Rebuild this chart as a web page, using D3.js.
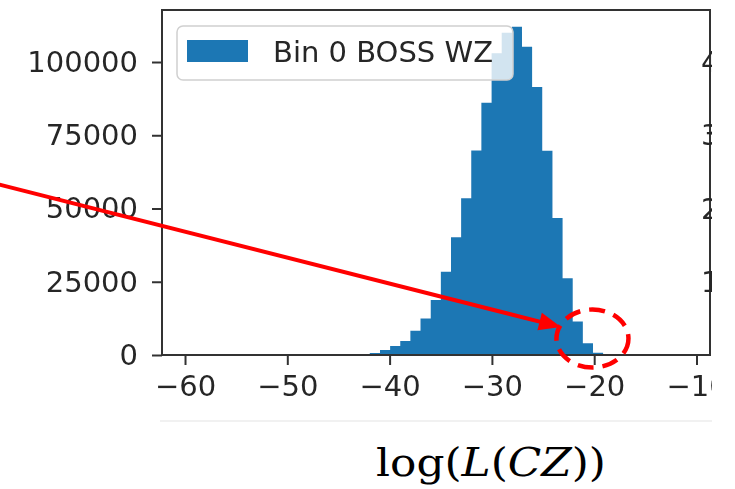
<!DOCTYPE html>
<html>
<head>
<meta charset="utf-8">
<script src="https://cdn.jsdelivr.net/npm/d3@7"></script>
<style>
  html, body { margin: 0; padding: 0; background: #fff; }
  svg { display: block; }
</style>
</head>
<body>
<svg id="chart" width="735" height="489"></svg>
<script>
// Histogram of log(L(CZ)) for bin 0 of the BOSS WZ sample
const binLeft = [-42.93, -41.94, -40.94, -39.95, -38.96, -37.97, -36.98, -35.98,
                 -34.99, -34.00, -33.01, -32.02, -31.03, -30.03, -29.04, -28.05,
                 -27.06, -26.07, -25.08, -24.08, -23.09, -22.10, -21.11, -20.12];
const binRight = [-41.94, -40.94, -39.95, -38.96, -37.97, -36.98, -35.98, -34.99,
                  -34.00, -33.01, -32.02, -31.03, -30.03, -29.04, -28.05, -27.06,
                  -26.07, -25.08, -24.08, -23.09, -22.10, -21.11, -20.12, -19.13];
const counts = [300, 700, 1700, 3100, 4800, 8300, 12500, 18800,
                28400, 40200, 53500, 69800, 86100, 103000, 110000, 112000,
                105200, 91500, 69700, 46800, 26200, 11400, 4000, 800];
const xTicks = [-60, -50, -40, -30, -20, -10];
const yTicks = [0, 25000, 50000, 75000, 100000];
const seriesLabel = "Bin 0 BOSS WZ";
const axisTitle = ["log(", "L", "(", "CZ", "))"];
// neighbouring panel's tick labels that peek in at the right edge
const sideTicks = [{v: 40000, t: "4"}, {v: 30000, t: "3"}, {v: 20000, t: "2"}, {v: 10000, t: "1"}];

const svg = d3.select("#chart");
const frame = {left: 162, right: 710, top: 10, bottom: 355};

const x = d3.scaleLinear().domain([-62.25, -8.68]).range([frame.left, frame.right]);
const y = d3.scaleLinear().domain([0, 117750]).range([frame.bottom, frame.top]);

const defs = svg.append("defs");
defs.append("filter").attr("id", "soft")
  .attr("x", "-5%").attr("y", "-5%").attr("width", "110%").attr("height", "110%")
  .append("feGaussianBlur").attr("stdDeviation", 0.6);
defs.append("clipPath").attr("id", "crop")
  .append("rect").attr("x", 0).attr("y", 0).attr("width", 712).attr("height", 423);

const fig = svg.append("g").attr("clip-path", "url(#crop)")
  .append("g").attr("filter", "url(#soft)");

// bars, drawn as one path so neighbouring bins show no seams
const barPath = d3.path();
counts.forEach((c, i) => {
  const x0 = x(binLeft[i]), x1 = x(binRight[i]);
  barPath.rect(x0, y(c), x1 - x0, y(0) - y(c));
});
fig.append("path").attr("d", barPath.toString()).attr("fill", "#1f77b4");

// legend (semi-transparent box over the bars)
const leg = fig.append("g");
leg.append("rect")
  .attr("x", 177).attr("y", 26).attr("width", 336).attr("height", 54)
  .attr("rx", 6).attr("fill", "#fff").attr("fill-opacity", 0.8)
  .attr("stroke", "#d0d0d0").attr("stroke-width", 1.5);
leg.append("rect")
  .attr("x", 187).attr("y", 40).attr("width", 61).attr("height", 22)
  .attr("fill", "#1f77b4");
leg.append("text")
  .attr("x", 273).attr("y", 62)
  .attr("font-family", "DejaVu Sans").attr("font-size", 29).attr("fill", "#262626")
  .text(seriesLabel);

// axes
const xAxis = d3.axisBottom(x).tickValues(xTicks)
  .tickFormat(d => d3.format("d")(d).replace("-", "\u2212"))
  .tickSize(10).tickPadding(10);
const gx = fig.append("g").attr("transform", `translate(0,${frame.bottom})`).call(xAxis);

const yAxis = d3.axisLeft(y).tickValues(yTicks).tickFormat(d3.format("d"))
  .tickSize(10).tickPadding(14);
const gy = fig.append("g").attr("transform", `translate(${frame.left},0)`).call(yAxis);

[gx, gy].forEach(g => {
  g.select(".domain").remove();
  g.selectAll(".tick line").attr("stroke", "#333").attr("stroke-width", 2);
  g.selectAll(".tick text").attr("font-family", "DejaVu Sans").attr("font-size", 29)
    .attr("fill", "#262626");
});

// frame
fig.append("rect")
  .attr("x", frame.left).attr("y", frame.top)
  .attr("width", frame.right - frame.left).attr("height", frame.bottom - frame.top)
  .attr("fill", "none").attr("stroke", "#333").attr("stroke-width", 2);

// tick labels of the adjacent panel, cut at the edge
fig.append("g").selectAll("text")
  .data(sideTicks)
  .join("text")
  .attr("x", 701)
  .attr("y", d => y(d.v * 2.5))
  .attr("dy", "0.35em")
  .attr("font-family", "DejaVu Sans").attr("font-size", 29).attr("fill", "#262626")
  .text(d => d.t);

// faint lower edge of the figure
svg.append("line")
  .attr("x1", 160).attr("x2", 712).attr("y1", 421).attr("y2", 421)
  .attr("stroke", "#ececec").attr("stroke-width", 1.5);

// axis title, widened to the span of the math-font original
const titleLeft = 376, titleWidth = 230, titleBase = 476;
const titleG = svg.append("g");
const title = titleG.append("text")
  .attr("x", 0).attr("y", 0)
  .attr("font-family", "DejaVu Serif, Liberation Serif, serif")
  .attr("font-size", 40).attr("fill", "#000");
axisTitle.forEach((s, i) => {
  title.append("tspan").attr("font-style", i % 2 === 1 ? "italic" : "normal").text(s);
});
const natural = title.node().getComputedTextLength();
titleG.attr("transform", `translate(${titleLeft},${titleBase}) scale(${titleWidth / natural},1)`);

// annotation: arrow pointing at the right tail, ringed by a dashed ellipse
const arrowFrom = {x: -78.57, c: 58530};
const arrowTo = {x: -23.25, c: 9560};
const ring = {x: -20.17, c: 5630, rx: 36, ry: 29};

const p0 = [x(arrowFrom.x), y(arrowFrom.c)];
const p1 = [x(arrowTo.x), y(arrowTo.c)];
const len = Math.hypot(p1[0] - p0[0], p1[1] - p0[1]);
const ux = (p1[0] - p0[0]) / len, uy = (p1[1] - p0[1]) / len;
const headL = 22, headW = 9;
const base = [p1[0] - ux * headL, p1[1] - uy * headL];

const ann = svg.append("g");
ann.append("line")
  .attr("x1", p0[0]).attr("y1", p0[1])
  .attr("x2", base[0] + ux * 2).attr("y2", base[1] + uy * 2)
  .attr("stroke", "#ff0000").attr("stroke-width", 4);
ann.append("polygon")
  .attr("points", [
    p1,
    [base[0] - uy * headW, base[1] + ux * headW],
    [base[0] + uy * headW, base[1] - ux * headW]
  ].map(p => p.join(",")).join(" "))
  .attr("fill", "#ff0000");
ann.append("ellipse")
  .attr("cx", x(ring.x)).attr("cy", y(ring.c))
  .attr("rx", ring.rx).attr("ry", ring.ry)
  .attr("fill", "none").attr("stroke", "#ff0000")
  .attr("stroke-width", 4.5).attr("stroke-dasharray", "16 9");
</script>
</body>
</html>
